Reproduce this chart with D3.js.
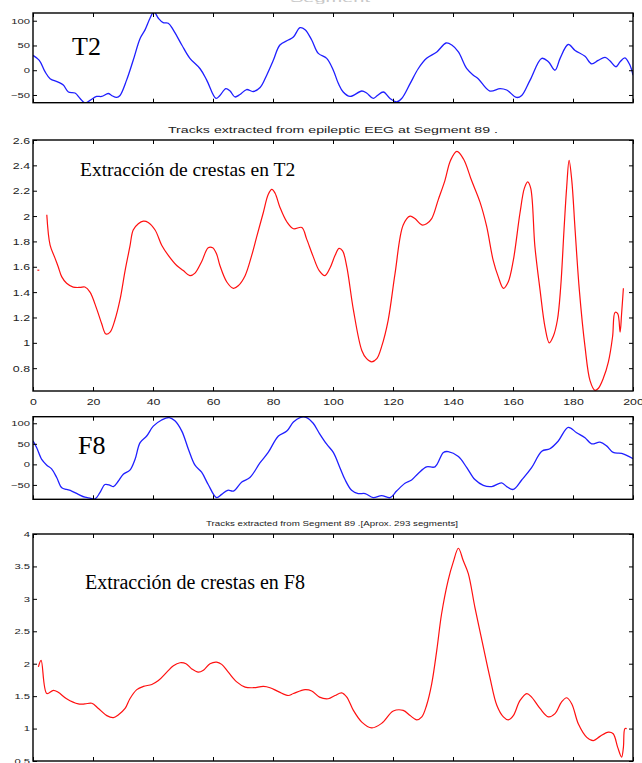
<!DOCTYPE html>
<html><head><meta charset="utf-8">
<script src="https://cdn.jsdelivr.net/npm/d3@7"></script>
<style>body{margin:0;background:#fff}svg{display:block}</style>
</head><body><svg id="c" width="642" height="763"></svg>
<script>
const xTicks = [0,20,40,60,80,100,120,140,160,180,200];
const t2Ticks = [-50,0,50,100];
const f8Ticks = [-50,0,50,100];
const ridgeT2Ticks = [0.8,1,1.2,1.4,1.6,1.8,2,2.2,2.4,2.6];
const ridgeF8Ticks = [0.5,1,1.5,2,2.5,3,3.5,4];
const titleT2 = "Tracks extracted from epileptic EEG at Segment 89 .";
const titleF8 = "Tracks extracted from Segment 89 .[Aprox. 293 segments]";

const t2Signal = [[0,30],[2.1,20],[4,-3],[5.7,-17],[8.4,-24],[10.1,-30],[11.8,-44],[14,-46],[15.7,-57],[17.3,-66],[19,-61],[21.2,-53],[22.9,-53],[25.1,-47],[26.2,-51],[27.9,-55],[29,-51],[31.2,-20],[33.4,20],[35.7,64],[37.3,81],[39,105],[40.3,118],[41.8,105],[43.4,96],[45.1,95],[46.8,81],[49.6,51],[52.3,24],[55.7,3],[57.9,-20],[61,-57],[62.3,-51],[64.3,-37],[65.7,-42],[67.3,-54],[69,-49],[71.2,-39],[73.4,-43],[75.7,-35],[77.9,-10],[80.1,20],[82.3,51],[85.1,61],[86.8,67],[89,86],[90.7,82],[92.9,61],[95.1,34],[97.9,24],[100.1,0],[101.8,-27],[103.4,-44],[105.7,-53],[109.6,-42],[111.2,-46],[113.4,-57],[114.8,-51],[116.8,-44],[119,-57],[121.2,-64],[122.9,-57],[125.7,-27],[128.4,3],[131.2,24],[134.6,37],[137.7,55],[139.6,51],[141.8,37],[144.6,3],[146.8,-10],[148.4,-17],[152.3,-42],[155.7,-37],[157.9,-40],[161.2,-55],[162.9,-51],[165.7,-20],[169.6,24],[171.8,17],[174,0],[175.7,24],[178.4,52],[180.7,40],[184,28],[186.2,13],[188.4,20],[190.7,26],[192.3,19],[194.3,7],[195.7,17],[197.3,25],[199,10],[200,-10]];

const ridgeT2 = [[4.6,2.01],[5.7,1.77],[7.3,1.67],[8.4,1.60],[9.6,1.52],[11.2,1.47],[13.4,1.44],[15.7,1.437],[17.3,1.44],[19,1.40],[21.2,1.27],[22.9,1.15],[24.3,1.07],[25.7,1.085],[27.3,1.18],[29,1.34],[30.7,1.57],[32.3,1.76],[33.4,1.89],[35.1,1.94],[36.8,1.96],[38.4,1.95],[40.7,1.89],[42.9,1.77],[45.1,1.69],[47.9,1.61],[50.1,1.57],[52.3,1.53],[54,1.55],[56.2,1.64],[58.4,1.75],[59.9,1.75],[61.2,1.70],[62.3,1.61],[64.6,1.48],[66.8,1.43],[68.4,1.45],[70.7,1.53],[72.9,1.69],[74.6,1.84],[76.8,2.03],[78.4,2.17],[79.6,2.21],[80.7,2.18],[82.3,2.07],[84.6,1.955],[86.8,1.90],[89.6,1.91],[91.2,1.82],[93.4,1.68],[95.4,1.57],[97.3,1.53],[99,1.59],[100.7,1.69],[102,1.745],[103.2,1.725],[104.6,1.60],[106.8,1.26],[109.6,0.94],[111.2,0.875],[112.9,0.85],[114.6,0.875],[116.2,0.97],[118.4,1.18],[120.7,1.55],[123.4,1.93],[125.7,2.00],[127.3,1.98],[129.6,1.93],[131.2,1.94],[132.9,1.98],[135.1,2.13],[137.3,2.28],[139.2,2.44],[141.3,2.51],[143.5,2.45],[146.2,2.28],[149,2.11],[151.2,1.92],[153.4,1.65],[155.1,1.52],[156.8,1.43],[158.4,1.48],[160.1,1.65],[162.3,2.02],[163.8,2.22],[164.9,2.27],[165.9,2.22],[167.3,1.76],[169,1.42],[170.7,1.12],[172.1,1.00],[173.4,1.05],[174.8,1.18],[175.9,1.44],[177,1.89],[177.9,2.23],[178.7,2.44],[179.6,2.28],[180.7,1.89],[182.1,1.42],[184,0.97],[185.7,0.70],[187.3,0.625],[188.4,0.64],[190.1,0.72],[191.8,0.85],[193.2,1.05],[194,1.24],[194.9,1.23],[195.7,1.085],[196.2,1.23],[196.8,1.43]];
const ridgeT2Stray = [[1.45,1.573],[2.1,1.573]];

const f8Signal = [[0,57],[1.2,41],[2.9,12],[4.6,-2],[6.2,-11],[7.9,-32],[9.6,-57],[11.2,-61],[12.9,-65],[15.1,-73],[17.3,-80],[19,-82],[20.7,-84],[22.3,-69],[24,-49],[25.7,-51],[26.8,-54],[28.4,-41],[30.1,-24],[32.3,-14],[34,12],[35.7,53],[37.9,69],[40.1,93],[42.9,108],[45.4,114],[47.3,106],[49.6,81],[51.8,37],[54,-2],[56.2,-19],[58.4,-49],[61.2,-81],[62.9,-73],[64.9,-63],[66.8,-65],[69.6,-43],[72.3,-32],[75.7,4],[78.4,29],[81.8,69],[84.6,81],[86.8,103],[89,114],[91.2,114],[93.4,100],[95.5,75],[97.9,49],[100.1,29],[102.3,-8],[104,-37],[106.2,-63],[108.4,-71],[110.7,-71],[113.4,-81],[116.2,-76],[119,-81],[121.2,-65],[124,-46],[126.2,-38],[128.4,-22],[131.2,-6],[134,-6],[136.8,29],[138.4,31],[141.8,19],[144.6,-8],[147.3,-37],[150.1,-51],[152.9,-54],[156.2,-45],[157.9,-54],[160.1,-61],[162.9,-38],[166.2,-8],[169.6,32],[172.3,38],[175.1,57],[178.4,90],[181.2,77],[184,65],[186.2,50],[189,54],[191.2,45],[193.4,29],[196.2,27],[198.4,20],[200,14]];

const ridgeF8 = [[1.8,1.95],[2.7,2.05],[4.6,1.54],[6.8,1.59],[8.4,1.56],[11.2,1.46],[15.1,1.38],[17.3,1.38],[19.6,1.39],[21.8,1.31],[24.6,1.20],[26.8,1.17],[28.4,1.21],[30.7,1.31],[32.3,1.46],[34.6,1.60],[36.8,1.65],[39.6,1.68],[41.8,1.74],[44.6,1.87],[46.8,1.97],[49,2.015],[51,2.00],[52.9,1.92],[55.1,1.87],[56.8,1.90],[59,2.00],[61.2,2.025],[62.9,1.99],[65.1,1.87],[67.9,1.72],[70.7,1.64],[73.4,1.63],[76.8,1.65],[79,1.63],[81.8,1.57],[85.1,1.51],[86.8,1.54],[90.7,1.60],[92.9,1.58],[95.5,1.485],[98.4,1.46],[100.7,1.51],[102.9,1.55],[104.6,1.485],[106.8,1.28],[109.6,1.10],[112.9,1.01],[116.2,1.08],[120.1,1.27],[123.4,1.28],[125.7,1.20],[127.9,1.135],[129.6,1.18],[131.2,1.36],[132.9,1.69],[134.6,2.21],[136.2,2.77],[138.4,3.29],[140.1,3.57],[141.8,3.78],[143.4,3.59],[145.1,3.39],[147.3,2.87],[150.1,2.26],[152.3,1.79],[154.6,1.36],[156.8,1.18],[158.4,1.135],[160.1,1.20],[162.3,1.43],[164.6,1.54],[166.2,1.485],[169,1.31],[171.8,1.18],[174,1.23],[176.2,1.41],[177.9,1.475],[179.6,1.38],[181.8,1.07],[184.6,0.865],[186.8,0.815],[189,0.88],[191.8,0.945],[193.4,0.92],[194.9,0.71],[196.2,0.56],[196.8,0.71],[197.3,1.00],[197.9,1.00]];

const svg = d3.select("#c");
const X0 = 33, X1 = 633;
const SANS = "'Liberation Sans', Arial, Helvetica, sans-serif";
const SERIF = "'Liberation Serif', 'Times New Roman', serif";

function panel(id, top, bottom, ydom, yticks, series, color, opts) {
  const x = d3.scaleLinear().domain([0,200]).range([X0, X1]);
  const y = d3.scaleLinear().domain(ydom).range([bottom, top]);
  const g = svg.append("g");
  g.append("clipPath").attr("id", "clip"+id).append("rect")
    .attr("x", X0).attr("y", top).attr("width", X1-X0).attr("height", bottom-top);
  const line = d3.line().x(d => x(d[0])).y(d => y(d[1])).curve(d3.curveCatmullRom.alpha(0.5));
  series.forEach(s => {
    g.append("path").datum(s).attr("d", line).attr("fill","none")
      .attr("stroke", color).attr("stroke-width", opts.lw).attr("clip-path", `url(#clip${id})`);
  });
  const fs = opts.fs, sx = opts.sx;
  const left = g.append("g").attr("transform", `translate(${X0},0)`)
    .call(d3.axisLeft(y).tickValues(yticks).tickSizeInner(-4).tickSizeOuter(0).tickPadding(3).tickFormat(d3.format("")));
  left.selectAll("text").attr("font-size", fs).attr("font-family", SANS).attr("fill","#222")
    .attr("transform", `scale(${sx},1)`).attr("x", -3/sx);
  const right = g.append("g").attr("transform", `translate(${X1},0)`)
    .call(d3.axisRight(y).tickValues(yticks).tickSizeInner(-4).tickSizeOuter(0).tickFormat(""));
  const topA = g.append("g").attr("transform", `translate(0,${top})`)
    .call(d3.axisTop(x).tickValues(xTicks).tickSizeInner(-4).tickSizeOuter(0).tickFormat(""));
  const bot = g.append("g").attr("transform", `translate(0,${bottom})`)
    .call(d3.axisBottom(x).tickValues(xTicks).tickSizeInner(-4).tickSizeOuter(0).tickPadding(7)
      .tickFormat(opts.xlabels ? d3.format("") : ""));
  bot.selectAll("text").attr("font-size", fs).attr("font-family", SANS).attr("fill","#222")
    .attr("transform", `scale(${sx},1)`);
  [left,right,topA,bot].forEach(a => { a.select(".domain").remove(); a.selectAll("line").attr("stroke","#000"); });
  g.append("rect").attr("x", X0).attr("y", top).attr("width", X1-X0).attr("height", bottom-top)
    .attr("fill","none").attr("stroke","#000").attr("stroke-width", 1.4);
  return g;
}

// faint, mostly cropped title remnant at the very top
svg.append("text").attr("x", 330).attr("y", 1.5).attr("text-anchor","middle")
  .attr("font-family", SANS).attr("font-size", 9).attr("fill","#c8c8c8")
  .attr("textLength", 80).attr("lengthAdjust","spacingAndGlyphs").text("Segment");

panel("a", 13, 102.7, [-65.6, 115.6], t2Ticks, [t2Signal], "#1f1fff", {lw:1.3, fs:7.5, sx:1.5, xlabels:false});
svg.append("text").attr("x", 72).attr("y", 55).attr("font-family", SERIF).attr("font-size", 26).text("T2");

panel("b", 140, 391, [0.62, 2.6], ridgeT2Ticks, [ridgeT2, ridgeT2Stray], "#ff1010", {lw:1.2, fs:9.5, sx:1.3, xlabels:true});
svg.append("text").attr("x", 333).attr("y", 133).attr("text-anchor","middle")
  .attr("font-family", SANS).attr("font-size", 9.5).attr("fill","#222")
  .attr("textLength", 330).attr("lengthAdjust","spacingAndGlyphs").text(titleT2);
svg.append("text").attr("x", 80).attr("y", 176).attr("font-family", SERIF).attr("font-size", 19.5).text("Extracción de crestas en T2");

panel("c", 416.7, 499.3, [-85, 116], f8Ticks, [f8Signal], "#1f1fff", {lw:1.3, fs:7.5, sx:1.5, xlabels:false});
svg.append("text").attr("x", 78).attr("y", 454).attr("font-family", SERIF).attr("font-size", 26).text("F8");

panel("d", 534, 761, [0.5, 4], ridgeF8Ticks, [ridgeF8], "#ff1010", {lw:1.2, fs:7.5, sx:1.5, xlabels:false});
svg.append("text").attr("x", 332).attr("y", 526).attr("text-anchor","middle")
  .attr("font-family", SANS).attr("font-size", 8).attr("fill","#222")
  .attr("textLength", 252).attr("lengthAdjust","spacingAndGlyphs").text(titleF8);
svg.append("text").attr("x", 85).attr("y", 589).attr("font-family", SERIF).attr("font-size", 20).text("Extracción de crestas en F8");
</script></body></html>
